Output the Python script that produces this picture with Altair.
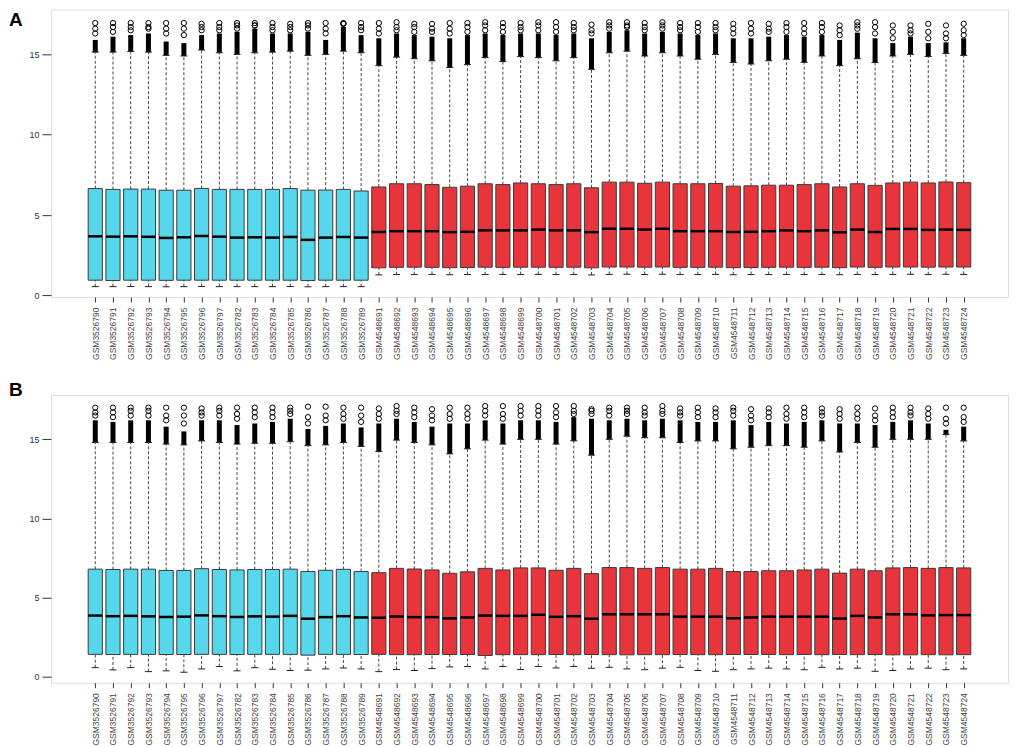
import altair as alt
import pandas as pd

# ---------------- data ----------------
names = (["GSM35267%02d" % n for n in [90, 91, 92, 93, 94, 95, 96, 97, 82, 83, 84, 85, 86, 87, 88, 89]]
         + ["GSM4548%03d" % n for n in range(691, 725)])
groups = ["GSE1"] * 16 + ["GSE2"] * 34

# Panel A
A_lo = [0.55, 0.55, 0.56, 0.55, 0.54, 0.55, 0.56, 0.55, 0.55, 0.55, 0.55, 0.56, 0.54, 0.55, 0.55, 0.55,
        1.28, 1.3, 1.3, 1.31, 1.29, 1.3, 1.3, 1.31, 1.3, 1.31, 1.3, 1.3, 1.28, 1.31, 1.32, 1.3, 1.32, 1.3,
        1.3, 1.31, 1.29, 1.3, 1.3, 1.31, 1.3, 1.3, 1.29, 1.31, 1.3, 1.31, 1.32, 1.3, 1.32, 1.31]
A_q1 = [0.95, 0.93, 0.95, 0.95, 0.94, 0.95, 0.95, 0.95, 0.95, 0.95, 0.95, 0.95, 0.93, 0.95, 0.95, 0.95,
        1.72, 1.75, 1.76, 1.75, 1.73, 1.74, 1.76, 1.75, 1.76, 1.76, 1.75, 1.76, 1.72, 1.77, 1.77, 1.76, 1.77, 1.75,
        1.75, 1.76, 1.73, 1.74, 1.75, 1.76, 1.75, 1.76, 1.73, 1.77, 1.75, 1.77, 1.77, 1.76, 1.77, 1.77]
A_med = [3.68, 3.66, 3.68, 3.65, 3.58, 3.62, 3.7, 3.66, 3.6, 3.62, 3.6, 3.64, 3.46, 3.6, 3.64, 3.6,
         3.95, 4.0, 4.0, 4.0, 3.94, 3.96, 4.05, 4.05, 4.05, 4.1, 4.05, 4.05, 3.94, 4.15, 4.15, 4.1, 4.15, 4.0,
         4.0, 4.0, 3.95, 3.96, 4.0, 4.05, 4.0, 4.05, 3.93, 4.1, 3.95, 4.14, 4.14, 4.08, 4.1, 4.08]
A_q3 = [6.65, 6.6, 6.62, 6.62, 6.55, 6.55, 6.66, 6.6, 6.6, 6.6, 6.6, 6.65, 6.55, 6.56, 6.6, 6.5,
        6.75, 6.95, 6.95, 6.9, 6.73, 6.8, 6.95, 6.9, 7.0, 6.95, 6.9, 6.95, 6.7, 7.05, 7.05, 6.98, 7.05, 6.95,
        6.95, 6.97, 6.8, 6.82, 6.86, 6.86, 6.9, 6.95, 6.75, 6.95, 6.85, 7.0, 7.05, 7.0, 7.06, 7.02]
A_hi = [15.14, 15.14, 15.18, 15.14, 14.94, 14.9, 15.27, 15.1, 15.0, 15.1, 15.14, 15.2, 14.94, 15.0, 15.2, 15.1,
        14.3, 14.83, 14.73, 14.6, 14.18, 14.36, 14.8, 14.55, 14.86, 14.8, 14.6, 14.8, 14.07, 15.1, 15.2, 14.9, 15.1, 14.9,
        14.7, 15.0, 14.5, 14.4, 14.6, 14.7, 14.5, 14.9, 14.3, 14.73, 14.49, 14.9, 15.0, 14.87, 15.06, 14.94]
A_dense = [15.9, 16.1, 16.2, 16.3, 15.8, 15.7, 16.2, 16.3, 16.4, 16.6, 16.3, 16.3, 16.4, 15.9, 16.7, 16.2,
           16.0, 16.3, 16.2, 16.1, 16.0, 16.2, 16.3, 16.2, 16.3, 16.3, 16.2, 16.3, 16.0, 16.4, 16.5, 16.3, 16.4, 16.3,
           16.2, 16.3, 16.0, 16.0, 16.1, 16.2, 16.1, 16.2, 15.9, 16.35, 16.0, 15.7, 16.1, 15.7, 15.75, 16.0]
A_o1 = [16.3, 16.4, 16.5, 16.6, 16.3, 16.2, 16.5, 16.5, 16.6, 16.8, 16.5, 16.5, 16.6, 16.3, 16.9, 16.5,
        16.3, 16.5, 16.4, 16.4, 16.3, 16.4, 16.5, 16.4, 16.5, 16.5, 16.4, 16.5, 16.3, 16.6, 16.7, 16.5, 16.6, 16.5,
        16.4, 16.5, 16.3, 16.3, 16.4, 16.4, 16.3, 16.4, 16.2, 16.6, 16.3, 16.0, 16.3, 16.0, 16.0, 16.2]
A_o2 = [16.6, 16.7, 16.7, 16.7, 16.6, 16.6, 16.7, 16.7, 16.8, 16.8, 16.7, 16.7, 16.8, 16.6, 16.9, 16.7,
        16.6, 16.7, 16.7, 16.6, 16.6, 16.7, 16.8, 16.7, 16.7, 16.8, 16.7, 16.7, 16.5, 16.8, 16.8, 16.7, 16.8, 16.7,
        16.7, 16.7, 16.6, 16.6, 16.6, 16.7, 16.6, 16.7, 16.5, 16.8, 16.7, 16.4, 16.5, 16.4, 16.3, 16.5]
A_max = [16.95, 16.95, 16.95, 16.95, 16.95, 16.95, 16.9, 16.95, 16.95, 16.95, 16.95, 16.9, 16.95, 16.95, 16.95, 16.95,
         16.95, 17.0, 16.9, 16.9, 16.95, 16.95, 17.0, 16.95, 16.95, 17.0, 17.0, 16.95, 16.85, 17.0, 17.0, 16.95, 17.0, 16.95,
         16.95, 16.95, 16.9, 16.95, 16.9, 16.95, 16.95, 16.95, 16.8, 17.0, 17.0, 16.8, 16.8, 16.9, 16.8, 16.9]

# Panel B
B_lo = [0.58, 0.44, 0.58, 0.33, 0.38, 0.29, 0.5, 0.65, 0.38, 0.58, 0.48, 0.4, 0.42, 0.5, 0.56, 0.5,
        0.33, 0.46, 0.4, 0.52, 0.63, 0.65, 0.5, 0.65, 0.46, 0.65, 0.56, 0.65, 0.54, 0.6, 0.5, 0.45, 0.55, 0.6,
        0.4, 0.35, 0.45, 0.5, 0.55, 0.5, 0.45, 0.6, 0.5, 0.55, 0.35, 0.4, 0.5, 0.55, 0.45, 0.5]
B_q1 = [1.42, 1.41, 1.42, 1.42, 1.41, 1.41, 1.42, 1.42, 1.41, 1.42, 1.42, 1.42, 1.37, 1.42, 1.42, 1.41,
        1.42, 1.4, 1.4, 1.41, 1.41, 1.41, 1.35, 1.4, 1.4, 1.4, 1.41, 1.4, 1.41, 1.4, 1.39, 1.4, 1.4, 1.41,
        1.4, 1.4, 1.41, 1.41, 1.41, 1.4, 1.41, 1.4, 1.41, 1.4, 1.41, 1.39, 1.39, 1.4, 1.39, 1.4]
B_med = [3.87, 3.83, 3.85, 3.82, 3.78, 3.8, 3.88, 3.83, 3.78, 3.82, 3.8, 3.85, 3.67, 3.77, 3.83, 3.75,
         3.73, 3.81, 3.77, 3.77, 3.69, 3.75, 3.87, 3.85, 3.85, 3.92, 3.79, 3.83, 3.67, 3.95, 3.95, 3.95, 3.95, 3.8,
         3.8, 3.8, 3.7, 3.75, 3.8, 3.8, 3.8, 3.8, 3.68, 3.85, 3.75, 3.95, 3.95, 3.88, 3.9, 3.9]
B_q3 = [6.8, 6.78, 6.8, 6.8, 6.72, 6.72, 6.83, 6.78, 6.75, 6.78, 6.78, 6.8, 6.65, 6.73, 6.79, 6.65,
        6.58, 6.85, 6.81, 6.75, 6.54, 6.63, 6.85, 6.75, 6.88, 6.88, 6.73, 6.85, 6.52, 6.9, 6.9, 6.85, 6.9, 6.8,
        6.8, 6.85, 6.65, 6.65, 6.7, 6.7, 6.75, 6.8, 6.55, 6.8, 6.7, 6.88, 6.9, 6.85, 6.9, 6.88]
B_hi = [14.8, 14.8, 14.8, 14.8, 14.7, 14.65, 14.9, 14.8, 14.7, 14.75, 14.75, 14.85, 14.6, 14.65, 14.8, 14.55,
        14.23, 14.95, 14.8, 14.65, 14.08, 14.4, 14.95, 14.7, 15.0, 15.0, 14.7, 14.9, 14.0, 15.0, 15.2, 15.1, 15.1, 14.8,
        14.9, 14.9, 14.4, 14.5, 14.6, 14.6, 14.5, 14.9, 14.2, 14.8, 14.5, 15.0, 15.0, 15.0, 15.3, 14.9]
B_dense = [16.2, 16.1, 16.2, 16.2, 15.8, 15.5, 16.2, 16.2, 15.9, 16.0, 16.1, 16.3, 15.65, 15.85, 16.0, 15.75,
           16.0, 16.3, 16.1, 15.8, 16.0, 16.0, 16.2, 16.0, 16.2, 16.2, 16.1, 16.4, 16.3, 16.2, 16.3, 16.2, 16.3, 16.2,
           16.1, 16.1, 16.2, 15.9, 16.1, 16.0, 16.1, 16.2, 16.0, 16.0, 15.9, 16.1, 16.2, 16.0, 15.6, 15.8]
B_o1 = [16.5, 16.4, 16.5, 16.5, 16.2, 16.0, 16.5, 16.5, 16.3, 16.4, 16.4, 16.6, 16.0, 16.2, 16.3, 16.1,
        16.3, 16.6, 16.4, 16.2, 16.3, 16.3, 16.5, 16.3, 16.5, 16.5, 16.4, 16.6, 16.6, 16.5, 16.6, 16.5, 16.6, 16.5,
        16.4, 16.4, 16.5, 16.2, 16.4, 16.3, 16.4, 16.5, 16.3, 16.3, 16.2, 16.4, 16.5, 16.3, 16.0, 16.1]
B_o2 = [16.7, 16.7, 16.8, 16.8, 16.5, 16.5, 16.7, 16.8, 16.6, 16.7, 16.7, 16.8, 16.4, 16.5, 16.6, 16.5,
        16.6, 16.8, 16.7, 16.5, 16.6, 16.6, 16.8, 16.6, 16.8, 16.8, 16.7, 16.8, 16.8, 16.8, 16.8, 16.7, 16.8, 16.7,
        16.7, 16.7, 16.8, 16.5, 16.7, 16.6, 16.7, 16.7, 16.6, 16.6, 16.5, 16.7, 16.7, 16.6, 16.3, 16.4]
B_max = [17.0, 17.0, 17.0, 17.0, 17.0, 17.0, 16.95, 17.0, 17.0, 17.0, 17.0, 17.0, 17.06, 17.06, 17.0, 17.0,
         16.95, 17.1, 17.0, 16.9, 17.0, 17.0, 17.1, 17.1, 17.1, 17.1, 17.1, 17.1, 16.9, 17.0, 17.0, 17.0, 17.1, 16.95,
         17.0, 16.95, 17.0, 16.9, 16.95, 17.0, 17.0, 16.95, 16.9, 17.0, 16.95, 17.0, 17.0, 16.95, 17.0, 17.0]

CYAN = "#56D7EB"
RED = "#E8353B"
FONT = "Liberation Sans"
W = 958
H = 288

label_js = "[" + ",".join("'%s'" % n for n in names) + "][datum.value - 1]"


def panel(letter, lo, q1, med, q3, hi, dense, o1, o2, omax, ydom, letter_y):
    idx = list(range(1, len(names) + 1))
    df = pd.DataFrame(dict(idx=idx, name=names, grp=groups, lo=lo, q1=q1, med=med,
                           q3=q3, hi=hi, dense=dense))
    outs = pd.DataFrame(dict(idx=idx * 3, val=o1 + o2 + omax))

    xsc = alt.Scale(domain=[-1.5, 52.5], nice=False, zero=False)
    ysc = alt.Scale(domain=ydom, nice=False, zero=False)
    xax = alt.Axis(values=idx, labelExpr=label_js, labelAngle=-90, labelAlign="right",
                   labelBaseline="middle", labelFontSize=8.5, labelColor="#444",
                   tickSize=5, labelPadding=5, grid=False, domain=False, title=None,
                   labelFont=FONT, tickColor="#333", labelOverlap=False, labelBound=False)
    yax = alt.Axis(values=[0, 5, 10, 15], labelFontSize=9, labelColor="#333", tickSize=9,
                   labelPadding=3, grid=False, domain=False, title=None, labelFont=FONT,
                   tickColor="#333")

    base = alt.Chart(df).transform_calculate(
        xl="datum.idx - 0.4", xr="datum.idx + 0.4",
        cl="datum.idx - 0.2", cr="datum.idx + 0.2")

    X = alt.X("idx:Q", scale=xsc, axis=xax)
    whisk_lo = base.mark_rule(strokeDash=[3, 2], color="#333", strokeWidth=0.9).encode(
        x=X, y=alt.Y("lo:Q", scale=ysc, axis=yax), y2="q1:Q")
    whisk_hi = base.mark_rule(strokeDash=[3, 2], color="#333", strokeWidth=0.9).encode(
        x=X, y=alt.Y("q3:Q", scale=ysc, axis=yax), y2="hi:Q")
    dense_col = base.mark_rule(color="black", strokeWidth=5).encode(
        x=X, y=alt.Y("hi:Q", scale=ysc, axis=yax), y2="dense:Q")
    cap_lo = base.mark_rule(color="#222", strokeWidth=1).encode(
        x=alt.X("cl:Q", scale=xsc, axis=xax), x2="cr:Q", y=alt.Y("lo:Q", scale=ysc, axis=yax))
    cap_hi = base.mark_rule(color="#222", strokeWidth=1).encode(
        x=alt.X("cl:Q", scale=xsc, axis=xax), x2="cr:Q", y=alt.Y("hi:Q", scale=ysc, axis=yax))
    box = base.mark_rect(stroke="#3a3a3a", strokeWidth=1).encode(
        x=alt.X("xl:Q", scale=xsc, axis=xax), x2="xr:Q",
        y=alt.Y("q1:Q", scale=ysc, axis=yax), y2="q3:Q",
        color=alt.Color("grp:N", scale=alt.Scale(domain=["GSE1", "GSE2"], range=[CYAN, RED]),
                        legend=None))
    median = base.mark_rule(color="black", strokeWidth=2.5).encode(
        x=alt.X("xl:Q", scale=xsc, axis=xax), x2="xr:Q", y=alt.Y("med:Q", scale=ysc, axis=yax))
    pts = alt.Chart(outs).mark_point(shape="circle", size=28, filled=False, color="black",
                                     strokeWidth=1, opacity=1).encode(
        x=X, y=alt.Y("val:Q", scale=ysc, axis=yax))
    tag = alt.Chart(pd.DataFrame({"t": [letter]})).mark_text(
        fontSize=19, fontWeight="bold", font=FONT, align="left", baseline="top", color="black"
    ).encode(text="t:N", x=alt.value(-42), y=alt.value(letter_y))

    return alt.layer(whisk_lo, whisk_hi, dense_col, cap_lo, cap_hi, box, median, pts, tag).properties(
        width=W, height=H)


pa = panel("A", A_lo, A_q1, A_med, A_q3, A_hi, A_dense, A_o1, A_o2, A_max, [-0.1, 17.8], 2)
pb = panel("B", B_lo, B_q1, B_med, B_q3, B_hi, B_dense, B_o1, B_o2, B_max, [-0.37, 17.8], -14)

chart = alt.vconcat(pa, pb, spacing=20).properties(
    padding={"left": 0, "top": 0, "right": 0, "bottom": 0}
).configure_view(stroke="#333333", strokeWidth=1).configure(background="white")

chart.save("out.html", embed_options={"renderer": "svg", "actions": False})
